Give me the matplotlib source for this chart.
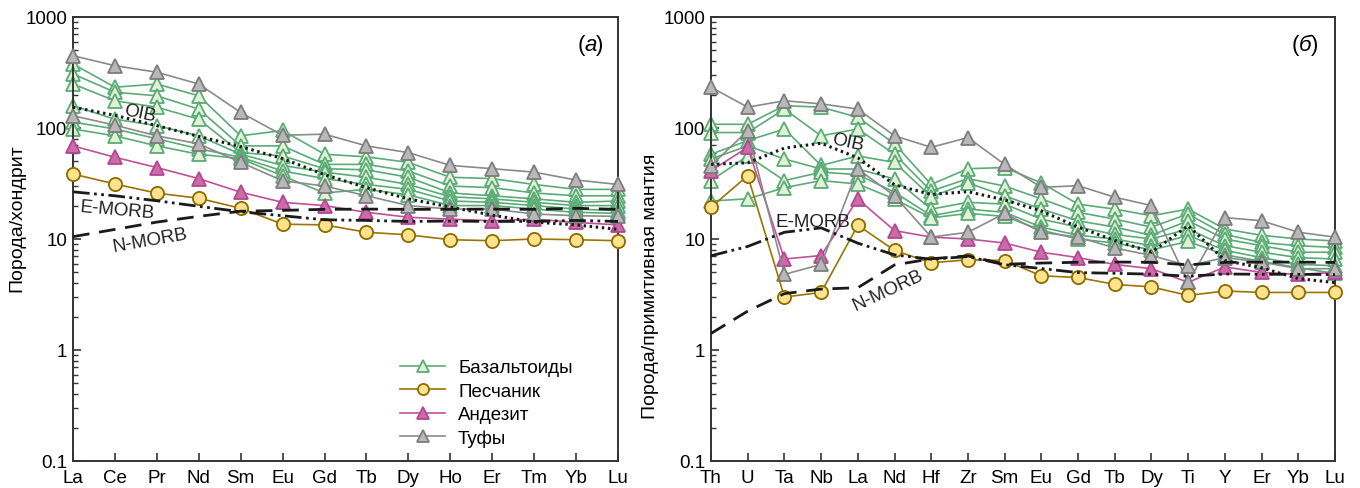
import matplotlib
matplotlib.use("Agg")
import matplotlib.pyplot as plt
from matplotlib.ticker import LogLocator, FuncFormatter, NullFormatter
from matplotlib.lines import Line2D

plt.rcParams['font.family'] = ['Liberation Sans', 'DejaVu Sans']

# ---- (а) REE, chondrite normalised ----
ree = ['La', 'Ce', 'Pr', 'Nd', 'Sm', 'Eu', 'Gd', 'Tb', 'Dy', 'Ho', 'Er', 'Tm', 'Yb', 'Lu']

bas_ree = [
    [377, 233, 249, 195, 85, 95, 58, 55, 49, 36, 35, 31, 28, 28],
    [307, 210, 195, 148, 69, 69, 47, 47, 41, 30, 29, 26, 24.5, 24.5],
    [249, 176, 154, 120, 60, 56, 43, 42, 36, 26, 24.5, 23, 21.4, 22],
    [159, 120, 105, 85, 58, 46, 40, 36, 31, 24, 23, 21.4, 20, 20],
    [113, 98, 80, 65, 54.5, 41, 35, 31, 28, 22, 21.4, 20, 18.6, 18],
    [98, 85, 69, 58, 53, 37, 26, 28, 25, 20, 20, 18.6, 17.4, 17],
]
tuf_ree = [
    [448, 364, 318, 249, 138, 86, 88, 69, 60, 46, 43, 40, 34, 31],
    [129, 106, 85, 72, 49, 33.5, 30, 24.5, 20, 18.6, 18.6, 16.8, 16.2, 16],
]
and_ree = [69, 54.5, 44, 35, 26.4, 21.4, 20, 17.4, 15.7, 15.1, 14.6, 15.1, 14.1, 13.4]
san_ree = [38.5, 31.3, 25.9, 23.3, 18.9, 13.6, 13.4, 11.5, 10.9, 9.85, 9.65, 10, 9.85, 9.65]

oib_ree = [154, 130, 105, 84, 68, 53, 38, 29, 23, 19.4, 16.4, 14.2, 13.4, 12.2]
emorb_ree = [26.6, 24.5, 22.1, 19.7, 17.6, 16.2, 14.9, 14.7, 14.4, 14.5, 14.4, 14.4, 14.7, 14.4]
nmorb_ree = [10.5, 12.2, 14.2, 16, 17.8, 18.1, 18.5, 18.6, 18.5, 18.5, 18.6, 18.5, 18.9, 18.5]

# ---- (б) spider, primitive mantle normalised ----
spd = ['Th', 'U', 'Ta', 'Nb', 'La', 'Nd', 'Hf', 'Zr', 'Sm', 'Eu', 'Gd', 'Tb', 'Dy', 'Ti', 'Y', 'Er', 'Yb', 'Lu']

bas_pm = [
    [108, 108, 159, 154, 125, 72, 31, 43, 44, 32, 20.6, 18.6, 16.2, 18.6, 12.3, 10.8, 10, 9.6],
    [91, 91, 148, 85, 98, 58, 27, 35, 30, 23, 17.4, 15.1, 12.8, 16.8, 11, 9.3, 8.7, 8.4],
    [58, 77, 98, 46, 56, 49, 24, 32, 24.5, 18.6, 14.6, 12.8, 10.8, 14.6, 10, 8.7, 7.6, 7.6],
    [52.6, 69, 52.6, 42.7, 42.7, 34.7, 18.6, 21.4, 20.6, 15.1, 12.8, 11, 10, 12.3, 8.7, 7.6, 6.8, 6.6],
    [33.6, 56, 33.6, 40, 38, 26.4, 16.2, 18.6, 17.4, 12.8, 10.8, 10, 8.7, 10.8, 7.9, 6.8, 5.9, 5.75],
    [22, 23, 29, 33.6, 31.3, 22.9, 15.5, 17, 16, 12, 10, 9.2, 8, 9.5, 7.2, 6.3, 5.5, 4.9],
]
tuf_pm = [
    [233, 154, 176, 165, 148, 85, 67, 82, 47, 29.2, 30.2, 23.8, 20, 4.07, 15.6, 14.6, 11.5, 10.4],
    [45.8, 94.6, 4.8, 5.9, 42.7, 24.5, 10.4, 11.5, 17, 11.5, 10.4, 8.3, 7.1, 5.75, 6.8, 6.2, 5.4, 5.4],
]
and_pm = [41.2, 67, 6.6, 7.1, 22.9, 11.9, 10.4, 10, 9.2, 7.6, 6.8, 5.9, 5.4, 4.07, 5.6, 5.0, 4.8, 5.0]
san_pm = [19.3, 37.2, 3.0, 3.3, 13.3, 7.9, 6.1, 6.5, 6.4, 4.66, 4.5, 3.9, 3.7, 3.1, 3.4, 3.3, 3.3, 3.3]

oib_pm = [47, 48.6, 65.9, 72.9, 53.9, 30.8, 25.2, 26.7, 22.5, 17.9, 12.8, 9.7, 7.6, 13.2, 6.4, 5.5, 4.4, 4.05]
emorb_pm = [7.06, 8.57, 11.5, 12.6, 9.17, 7.2, 6.57, 6.95, 5.86, 5.42, 4.98, 4.91, 4.82, 4.62, 4.84, 4.81, 4.81, 4.78]
nmorb_pm = [1.41, 2.24, 3.22, 3.54, 3.64, 5.84, 6.63, 7.05, 5.92, 6.07, 6.17, 6.2, 6.17, 5.85, 6.15, 6.19, 6.19, 6.15]

# styles
green = dict(color='#5aab76', marker='^', mfc='#e2f0d6', mec='#5aab76', ms=10, lw=1.2, mew=1.3)
yellow = dict(color='#9a7400', marker='o', mfc='#ffe38c', mec='#8c6a00', ms=9.5, lw=1.2, mew=1.3)
pink = dict(color='#c0509a', marker='^', mfc='#cc6aaa', mec='#b04890', ms=10, lw=1.2, mew=1.3)
gray = dict(color='#8a8a8a', marker='^', mfc='#b8b8b8', mec='#7c7c7c', ms=10, lw=1.2, mew=1.3)

oib_st = dict(color='#1a1a1a', lw=2.2, ls=(0, (0.8, 1.2)))
emorb_st = dict(color='#1a1a1a', lw=2.0, ls=(0, (6, 1.6, 1, 1.6, 1, 1.6)))
nmorb_st = dict(color='#1a1a1a', lw=2.0, ls=(0, (6, 3.5)))

fig = plt.figure(figsize=(13.6, 4.89), dpi=100)
axl = fig.add_axes([73 / 1360, 1 - 462 / 489, 545 / 1360, 444 / 489])
axr = fig.add_axes([711 / 1360, 1 - 462 / 489, 624 / 1360, 444 / 489])


def draw(ax, labels, bas, tuf, andz, san, oib, emorb, nmorb, ylabel):
    x = range(len(labels))
    for s in bas:
        ax.plot(x, s, clip_on=False, zorder=2, **green)
    ax.plot(x, andz, clip_on=False, zorder=3, **pink)
    for s in tuf:
        ax.plot(x, s, clip_on=False, zorder=3.5, **gray)
    ax.plot(x, san, clip_on=False, zorder=4, **yellow)
    ax.plot(x, oib, zorder=5, **oib_st)
    ax.plot(x, emorb, zorder=5, **emorb_st)
    ax.plot(x, nmorb, zorder=5, **nmorb_st)

    ax.set_yscale('log')
    ax.set_ylim(0.1, 1000)
    ax.set_xlim(0, len(labels) - 1)
    ax.set_xticks(list(x))
    ax.set_xticklabels(labels)
    ax.yaxis.set_major_locator(LogLocator(base=10, numticks=10))
    ax.yaxis.set_minor_locator(LogLocator(base=10, subs=range(2, 10), numticks=20))
    ax.yaxis.set_major_formatter(FuncFormatter(lambda v, p: '%g' % v))
    ax.yaxis.set_minor_formatter(NullFormatter())
    ax.tick_params(axis='both', which='major', direction='in', length=6, width=1.2,
                   labelsize=13.5, color='#333333', pad=4)
    ax.tick_params(axis='y', which='minor', direction='in', length=3.5, width=1.0, color='#333333')
    ax.tick_params(axis='x', pad=6)
    for sp in ax.spines.values():
        sp.set_linewidth(1.4)
        sp.set_color('#333333')
    ax.set_ylabel(ylabel, fontsize=14)


draw(axl, ree, bas_ree, tuf_ree, and_ree, san_ree, oib_ree, emorb_ree, nmorb_ree, 'Порода/хондрит')
draw(axr, spd, bas_pm, tuf_pm, and_pm, san_pm, oib_pm, emorb_pm, nmorb_pm, 'Порода/примитивная мантия')
axl.yaxis.set_label_coords(-0.088, 0.55)
axr.yaxis.set_label_coords(-0.083, 0.395)

lab = dict(fontsize=13.5, color='#222222', ha='center', va='center', zorder=6)
axl.text(1.6, 136, 'OIB', rotation=-12, **lab)
axl.text(1.05, 18.3, 'E-MORB', rotation=-5, **lab)
axl.text(1.84, 9.9, 'N-MORB', rotation=10, **lab)
axr.text(3.73, 75, 'OIB', rotation=-12, **lab)
axr.text(2.78, 14.5, 'E-MORB', rotation=0, **lab)
axr.text(4.82, 3.5, 'N-MORB', rotation=25, **lab)

for ax, letter, xf in ((axl, 'а', 0.949), (axr, 'б', 0.952)):
    ax.annotate('(', (xf, 0.939), xycoords='axes fraction', xytext=(-4, 0),
                textcoords='offset points', fontsize=16, ha='right', va='center')
    ax.annotate(letter, (xf, 0.939), xycoords='axes fraction', fontsize=16,
                style='italic', ha='center', va='center')
    ax.annotate(')', (xf, 0.939), xycoords='axes fraction', xytext=(4, 0),
                textcoords='offset points', fontsize=16, ha='left', va='center')

handles = [Line2D([], [], **green), Line2D([], [], **yellow),
           Line2D([], [], **pink), Line2D([], [], **gray)]
for h in handles:
    h.set_markersize(8)
axl.legend(handles, ['Базальтоиды', 'Песчаник', 'Андезит', 'Туфы'],
           loc='lower left', bbox_to_anchor=(0.6, 0.032), frameon=False,
           fontsize=13.5, handlelength=2.4, handletextpad=0.7, labelspacing=0.33,
           borderpad=0, borderaxespad=0)

fig.savefig('out.png', dpi=100)
